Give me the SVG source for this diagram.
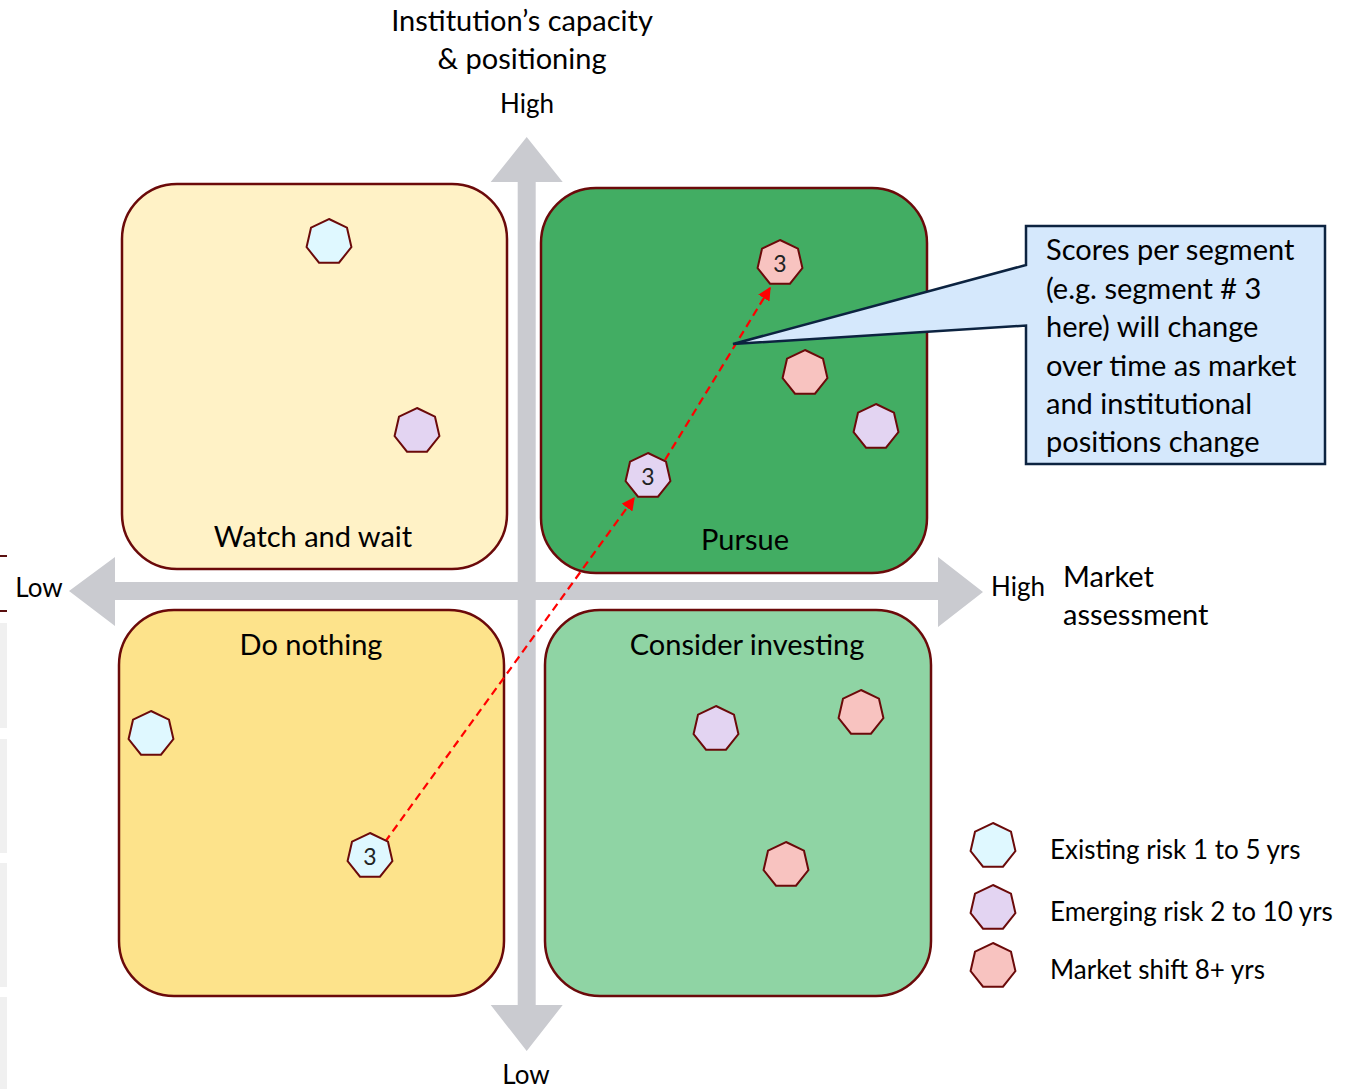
<svg xmlns="http://www.w3.org/2000/svg" width="1355" height="1089" viewBox="0 0 1355 1089">
<style>
text{font-family:Lato,"Open Sans","Liberation Sans",sans-serif;fill:#000}
.lbl{font-size:29px}
.quad{stroke:#6B0A0A;stroke-width:2.5}
.hep{stroke:#6B0A0A;stroke-width:2}
.cy{fill:#DFF8FF}.pu{fill:#E3D4F2}.pk{fill:#F8C3C0}
.num{font-size:23px;text-anchor:middle;fill:#222}
.axis{fill:#CACBD0}
.dash{stroke:#FF0000;stroke-width:2.2;stroke-dasharray:8 5;fill:none}
</style>
<defs>
<polygon id="h" points="0,-23 17.98,-14.34 22.42,5.12 9.98,20.72 -9.98,20.72 -22.42,5.12 -17.98,-14.34"/>
<marker id="ar" viewBox="0 0 10 10" refX="9" refY="5" markerWidth="6" markerHeight="6" orient="auto" markerUnits="strokeWidth">
<path d="M0,0 L10,5 L0,10 z" fill="#FF0000"/>
</marker>
</defs>
<rect width="1355" height="1089" fill="#fff"/>
<g id="edge">
<rect x="0" y="555" width="7" height="2" fill="#5A1010"/>
<rect x="0" y="610" width="7" height="2" fill="#5A1010"/>
<rect x="0" y="623" width="7" height="105" fill="#F0F0F0"/>
<rect x="0" y="739" width="7" height="114" fill="#F0F0F0"/>
<rect x="0" y="863" width="7" height="124" fill="#F0F0F0"/>
<rect x="0" y="997" width="7" height="92" fill="#F0F0F0"/>
</g>
<g id="q-watch"><rect class="quad" x="122" y="184" width="385" height="385" rx="55" fill="#FFF2C6"/><text class="lbl" x="313" y="547" text-anchor="middle">Watch and wait</text></g>
<g id="q-pursue"><rect class="quad" x="541" y="188" width="386" height="385" rx="55" fill="#42AD63"/><text class="lbl" x="745" y="550" text-anchor="middle">Pursue</text></g>
<g id="q-nothing"><rect class="quad" x="119" y="610" width="385" height="386" rx="55" fill="#FDE38B"/><text class="lbl" x="311" y="655" text-anchor="middle">Do nothing</text></g>
<g id="q-consider"><rect class="quad" x="545" y="610" width="386" height="386" rx="55" fill="#8FD4A4"/><text class="lbl" x="747" y="655" text-anchor="middle">Consider investing</text></g>
<g id="axes">
<polygon class="axis" points="526.7,137 562.7,182 535.7,182 535.7,1005 562.7,1005 526.7,1051 490.7,1005 517.7,1005 517.7,182 490.7,182"/>
<polygon class="axis" points="69,591 115,557 115,582 938,582 938,557 983,592 938,627 938,600 115,600 115,626"/>
</g>
<g id="axis-labels">
<text class="lbl" x="522" y="31" text-anchor="middle">Institution’s capacity</text>
<text class="lbl" x="522" y="69" text-anchor="middle">&amp; positioning</text>
<text class="lbl" x="527" y="113" text-anchor="middle" style="font-size:26px">High</text>
<text class="lbl" x="526" y="1084" text-anchor="middle" style="font-size:26px">Low</text>
<text class="lbl" x="39" y="597" text-anchor="middle" style="font-size:26px">Low</text>
<text class="lbl" x="1018" y="596" text-anchor="middle" style="font-size:26px">High</text>
<text class="lbl" x="1063" y="587">Market</text>
<text class="lbl" x="1063" y="625">assessment</text>
</g>
<g id="connectors">
<line class="dash" x1="385" y1="842" x2="634" y2="498" marker-end="url(#ar)"/>
<line class="dash" x1="665" y1="460" x2="770" y2="288" marker-end="url(#ar)"/>
</g>
<g id="segments">
<use href="#h" class="hep cy" x="329" y="242"/>
<use href="#h" class="hep pu" x="417" y="431"/>
<g id="seg3-pursue"><use href="#h" class="hep pk" x="780" y="263"/><text class="num" x="780" y="272">3</text></g>
<use href="#h" class="hep pk" x="805" y="373"/>
<use href="#h" class="hep pu" x="876" y="427"/>
<g id="seg3-mid"><use href="#h" class="hep pu" x="648" y="476"/><text class="num" x="648" y="485">3</text></g>
<use href="#h" class="hep cy" x="151" y="734"/>
<g id="seg3-start"><use href="#h" class="hep cy" x="370" y="856"/><text class="num" x="370" y="865">3</text></g>
<use href="#h" class="hep pu" x="716" y="729"/>
<use href="#h" class="hep pk" x="861" y="713"/>
<use href="#h" class="hep pk" x="786" y="865"/>
</g>
<g id="callout">
<path d="M1026,226 H1325 V464 H1026 V325.5 L733,344 L1026,265 Z" fill="#D5E8FC" stroke="#0C2340" stroke-width="2.5" stroke-linejoin="miter"/>
<text class="lbl" x="1046" y="260">Scores per segment</text>
<text class="lbl" x="1046" y="299">(e.g. segment # 3</text>
<text class="lbl" x="1046" y="337">here) will change</text>
<text class="lbl" x="1046" y="376">over time as market</text>
<text class="lbl" x="1046" y="414">and institutional</text>
<text class="lbl" x="1046" y="452">positions change</text>
</g>
<g id="legend">
<use href="#h" class="hep cy" x="993" y="846"/>
<use href="#h" class="hep pu" x="993" y="908"/>
<use href="#h" class="hep pk" x="993" y="966"/>
<text class="lbl" style="font-size:26px" x="1050" y="859">Existing risk 1 to 5 yrs</text>
<text class="lbl" style="font-size:26px" x="1050" y="921">Emerging risk 2 to 10 yrs</text>
<text class="lbl" style="font-size:26px" x="1050" y="979">Market shift 8+ yrs</text>
</g>
</svg>
